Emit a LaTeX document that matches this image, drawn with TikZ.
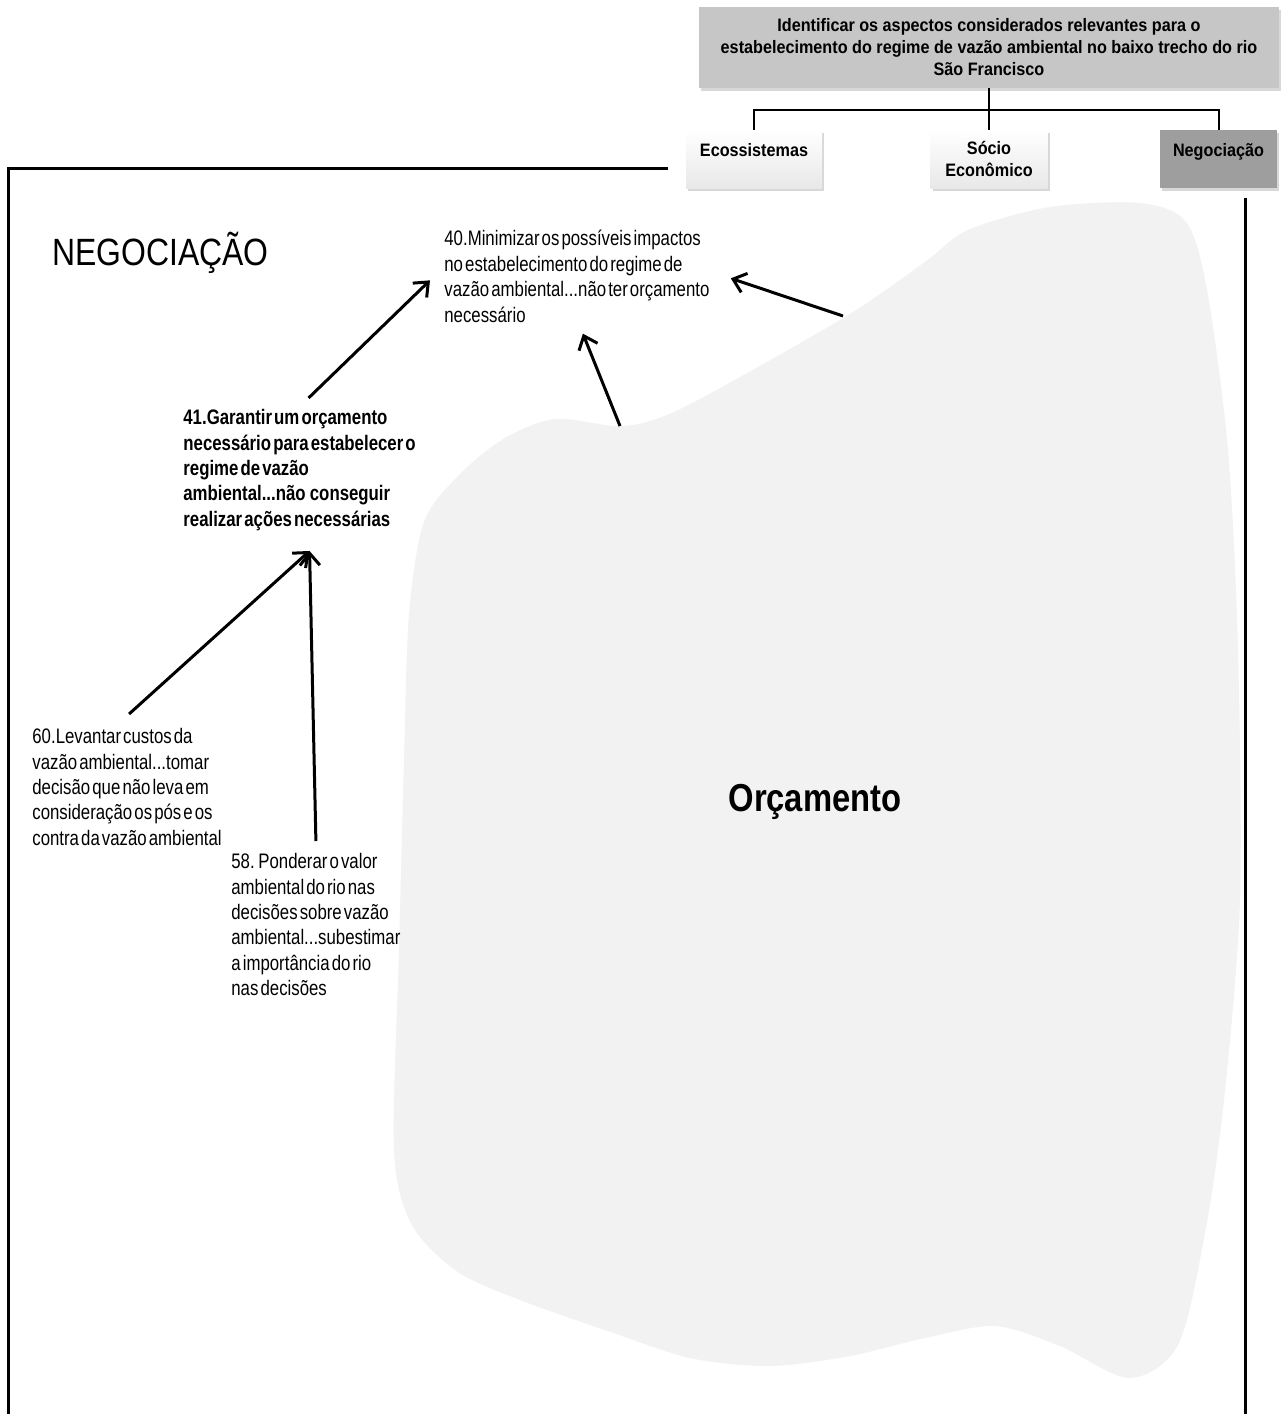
\documentclass[tikz,border=0pt]{standalone}
\usepackage{fontspec}
\setmainfont{Liberation Sans}
\newfontfamily\nar[FakeStretch=0.8,WordSpace=0.45]{Liberation Sans}
\newfontfamily\sqz[FakeStretch=0.84]{Liberation Sans}
\newfontfamily\bxf[FakeStretch=0.9]{Liberation Sans}
\usetikzlibrary{arrows.meta,shadows}
\definecolor{blobgray}{HTML}{F2F2F2}
\definecolor{titlegray}{HTML}{C6C6C6}
\definecolor{neggray}{HTML}{9E9E9E}
\begin{document}
\begin{tikzpicture}[x=0.5pt,y=-0.5pt,
  boxshadow/.style={drop shadow={opacity=0.3,shadow xshift=1pt,shadow yshift=-1.5pt}},
  treebox/.style={boxshadow, font=\bxf\bfseries\fontsize{9}{11}\selectfont, align=center, inner xsep=1pt},
  whitebox/.style={treebox, top color=white, bottom color=black!9},
  topline/.style={text height=13pt, text depth=16pt, inner ysep=0pt},
  tree/.style={line width=1pt},
  frame/.style={line width=1.5pt},
  arr/.style={line width=1.5pt, -{Straight Barb[length=6pt,width=10pt,line width=1.5pt]}},
  txt/.style={font=\nar\fontsize{10.5}{12.7}\selectfont, align=left, inner sep=0pt, anchor=north west},
]
\useasboundingbox (0,0) rectangle (1286,1414);
\fill[white] (0,0) rectangle (1286,1414);

% blob
\fill[blobgray] plot[smooth cycle, tension=0.5] coordinates {
 (394,1150) (399,950) (404,760) (409,615) (424,522) (460,474) (505,438) (555,419)
 (615,426) (650,421) (700,399) (845,317) (925,262) (968,230)
 (1050,207) (1140,203) (1186,222) (1207,290) (1228,450) (1238,650) (1240,900)
 (1224,1100) (1205,1233) (1178,1345) (1129,1378)
 (1060,1346) (995,1326) (925,1338) (850,1356) (770,1366) (690,1358) (605,1330)
 (520,1300) (458,1272) (412,1225)};
\coordinate (b1) at (620,426);
\coordinate (b2) at (843,316);

% frame
\draw[frame] (668,168) -- (8,168) -- (8,1414);
\draw[frame] (1245,198) -- (1245,1414);

% hierarchy
\node[treebox, fill=titlegray, minimum width=290pt, minimum height=40.5pt] (title) at (989,47.5)
  {Identificar os aspectos considerados relevantes para o\\estabelecimento do regime de vazão ambiental no baixo trecho do rio\\São Francisco};
\node[whitebox, topline, minimum width=68pt] (eco) at (754,159) {Ecossistemas};
\node[whitebox, minimum width=58.5pt, minimum height=29pt] (soc) at (989,159) {Sócio\\Econômico};
\node[treebox, fill=neggray, topline, minimum width=58.5pt] (neg) at (1218.5,159) {Negociação};
\coordinate (jn) at (989,110);
\draw[tree] (title.south) -- (soc.north);
\draw[tree] (eco.north) |- (jn) -| (neg.north);

% texts
\node[font=\sqz\fontsize{19}{22}\selectfont, anchor=west, inner sep=0pt] (head) at (52,253) {NEGOCIAÇÃO};
\node[font=\sqz\bfseries\fontsize{19.5}{22}\selectfont, inner sep=0pt] (orc) at (815,802) {Orçamento};

\node[txt] (n40) at (444,230) {40.Minimizar os possíveis impactos\\no estabelecimento do regime de\\vazão ambiental...não ter orçamento\\necessário};
\node[txt, font=\nar\bfseries\fontsize{10.5}{12.7}\selectfont] (n41) at (183,409) {41.Garantir um orçamento\\necessário para estabelecer o\\regime de vazão\\ambiental...não\ \ conseguir\\realizar ações necessárias};
\node[txt] (n60) at (32,728) {60.Levantar custos da\\vazão ambiental...tomar\\decisão que não leva em\\consideração os pós e os\\contra da vazão ambiental};
\node[txt] (n58) at (231,853) {58. Ponderar o valor\\ambiental do rio nas\\decisões sobre vazão\\ambiental...subestimar\\a importância do rio\\nas decisões};

% arrows
\coordinate (t41) at ([shift={(5pt,-10pt)}]n41.south);
\draw[arr] ([shift={(4.5pt,5.5pt)}]n41.north) -- ([shift={(-7pt,-2pt)}]n40.west);
\draw[arr] (b1) -- ([shift={(3pt,-5.5pt)}]n40.south);
\draw[arr] (b2) -- ([shift={(10.5pt,-1pt)}]n40.east);
\draw[arr] ([shift={(1pt,7pt)}]n60.north) -- (t41);
\draw[arr] ([shift={(0pt,6pt)}]n58.north) -- (t41);
\end{tikzpicture}
\end{document}
